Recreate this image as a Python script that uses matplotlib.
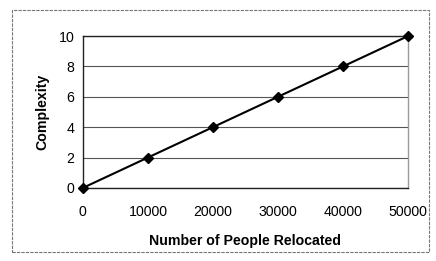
import matplotlib
matplotlib.use("Agg")
import matplotlib.pyplot as plt
from matplotlib.patches import Rectangle

people = [0, 10000, 20000, 30000, 40000, 50000]
complexity = [0, 2, 4, 6, 8, 10]
xticks = [0, 10000, 20000, 30000, 40000, 50000]
yticks = [0, 2, 4, 6, 8, 10]

plt.rcParams['font.family'] = ['Liberation Sans', 'DejaVu Sans']

fig = plt.figure(figsize=(4.36, 2.61), dpi=100)
ax = fig.add_axes([0.190, 0.280, 0.746, 0.582])
ax.plot(people, complexity, color='black', lw=1.5, marker='D', ms=5.5, clip_on=False, zorder=3)
ax.set_xlim(0, 50000)
ax.set_ylim(0, 10)
ax.set_xticks(xticks)
ax.set_yticks(yticks)
ax.yaxis.grid(True, color='#555555', lw=0.8)
ax.set_axisbelow(True)
for s in ax.spines.values():
    s.set_color('#222222')
    s.set_linewidth(1.0)
ax.spines['right'].set_color('#999999')
ax.tick_params(length=0, labelsize=10.2, pad=6)
ax.tick_params(axis='x', pad=12)
ax.set_xlabel('Number of People Relocated', fontsize=10.2, fontweight='bold', labelpad=11)
ax.set_ylabel('Complexity', fontsize=10.2, fontweight='bold', labelpad=7)

fig.patches.append(Rectangle((0.028, 0.035), 0.955, 0.927, transform=fig.transFigure,
                             fill=False, edgecolor='#777777', lw=0.8, ls=(0, (3, 1))))
fig.savefig('out.png', dpi=100)
